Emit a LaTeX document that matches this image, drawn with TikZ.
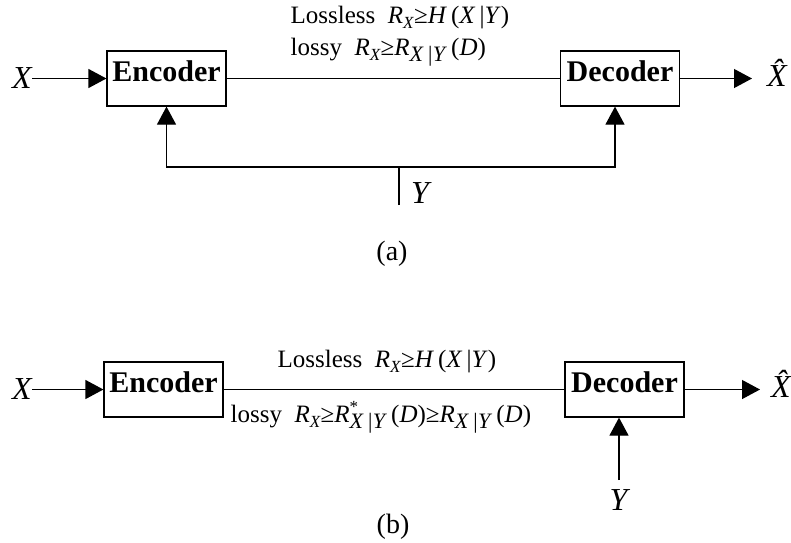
\documentclass[tikz,border=0pt]{standalone}
\usepackage{fontspec}
\setmainfont{Liberation Serif}
\usetikzlibrary{arrows.meta}

\newcommand{\ssub}[1]{\raisebox{-5pt}{\fontsize{17}{17}\selectfont\textit{#1}}}
\newcommand{\bsub}[1]{\raisebox{-6pt}{\fontsize{22}{22}\selectfont\textit{#1}}}
\newcommand{\optmark}{\rlap{\raisebox{10pt}{\fontsize{17}{17}\selectfont *}}}

\begin{document}
\begin{tikzpicture}[x=1pt,y=-1pt,line width=1.2pt,
  >={Triangle[length=18pt,width=19pt]},
  box/.style={draw,minimum width=119pt,minimum height=55pt,inner sep=0pt,
    text depth=15pt,font=\fontsize{30}{30}\selectfont\bfseries},
  var/.style={inner sep=0pt,font=\fontsize{32}{32}\selectfont\itshape},
  rate/.style={inner sep=0pt,anchor=base west,font=\fontsize{25}{25}\selectfont},
  subcap/.style={inner sep=0pt,font=\fontsize{28}{28}\selectfont}]
  \useasboundingbox (0,0) rectangle (791,542);

  % (a) side information at both ends
  \node[var] (xa) at (22,78.5) {X};
  \node[box] (enca) at (166.5,78.5) {Encoder};
  \node[box] (deca) at (620,78.5) {Decoder};
  \coordinate (outa) at (752,78.5);
  \node[var] (xhata) at (777,73) {\^{X}};
  \coordinate (ya) at (399,205);
  \coordinate (ja) at (399,167);
  \node[var] (yla) at (420,193) {Y};
  \draw[->] (xa) -- (enca);
  \draw (enca) -- (deca);
  \draw[->] (deca) -- (outa);
  \draw (ya) -- (ja);
  \draw[->] (ja) -| (enca.south);
  \draw[->] (ja) -| ([xshift=-5pt]deca.south);
  \node[rate] (lla) at (290,23) {Lossless\ \ \textit{R}\ssub{X}≥\textit{H}\,(\textit{X}\,|\textit{Y})};
  \node[rate] (lya) at (290,55) {lossy\ \ \textit{R}\ssub{X}≥\textit{R}\bsub{X\,|Y}\,(\textit{D})};
  \node[subcap] (capa) at (392,254) {(a)};

  % (b) side information at the decoder only
  \node[var] (xb) at (22,389.5) {X};
  \node[box] (encb) at (163.5,389.5) {Encoder};
  \node[box] (decb) at (624.5,389.5) {Decoder};
  \coordinate (outb) at (760,389.5);
  \node[var] (xhatb) at (781,384) {\^{X}};
  \coordinate (yb) at (619,480);
  \node[var] (ylb) at (618.5,500) {Y};
  \draw[->] (xb) -- (encb);
  \draw (encb) -- (decb);
  \draw[->] (decb) -- (outb);
  \draw[->] (yb) -- (yb |- decb.south);
  \node[rate] (llb) at (277,367) {Lossless\ \ \textit{R}\ssub{X}≥\textit{H}\,(\textit{X}\,|\textit{Y})};
  \node[rate] (lyb) at (230,422) {lossy\ \ \textit{R}\ssub{X}≥\textit{R}\optmark\bsub{X\,|Y}\,(\textit{D})≥\textit{R}\bsub{X\,|Y}\,(\textit{D})};
  \node[subcap] (capb) at (393,527) {(b)};
\end{tikzpicture}
\end{document}
